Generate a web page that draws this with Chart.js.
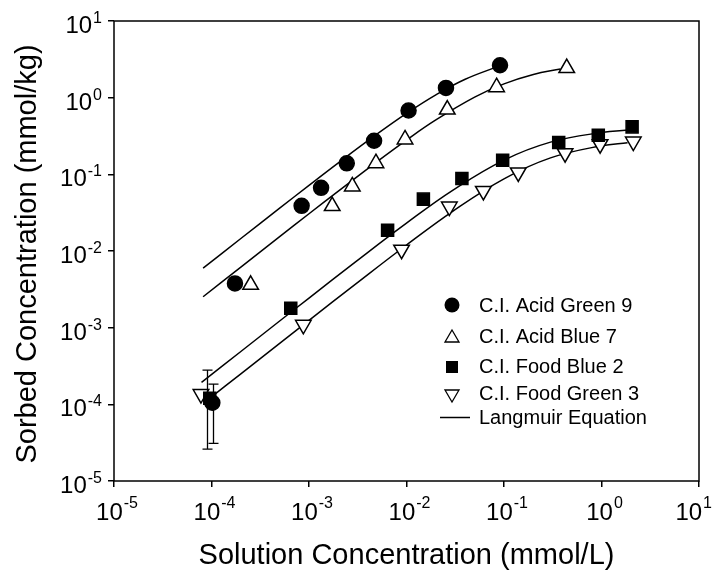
<!DOCTYPE html>
<html>
<head>
<meta charset="utf-8">
<script src="https://cdn.jsdelivr.net/npm/chart.js@4/dist/chart.umd.min.js"></script>
<style>
  html, body { margin: 0; padding: 0; background: #fff; }
  canvas { display: block; }
</style>
</head>
<body>
<canvas id="chart" width="721" height="573"></canvas>
<script>
// decade exponents used for the axis ticks
const xExp = [-5, -4, -3, -2, -1, 0, 1];
const yExp = [-5, -4, -3, -2, -1, 0, 1];

const xTitle = "Solution Concentration (mmol/L)";
const yTitle = "Sorbed Concentration (mmol/kg)";
const legendLabels = ["C.I. Acid Green 9", "C.I. Acid Blue 7", "C.I. Food Blue 2", "C.I. Food Green 3", "Langmuir Equation"];

// measured points
const ag9X = [1.02e-4, 1.74e-4, 8.4e-4, 1.33e-3, 2.44e-3, 4.65e-3, 0.0105, 0.0254, 0.091];
const ag9Y = [1.05e-4, 3.78e-3, 0.0388, 0.0667, 0.139, 0.274, 0.68, 1.34, 2.65];
const ab7X = [2.52e-4, 1.73e-3, 2.78e-3, 4.86e-3, 9.66e-3, 0.0262, 0.084, 0.44];
const ab7Y = [3.62e-3, 0.0385, 0.0696, 0.140, 0.285, 0.70, 1.37, 2.43];
const fb2X = [9.6e-5, 6.5e-4, 6.4e-3, 0.0149, 0.037, 0.0969, 0.364, 0.927, 2.06];
const fb2Y = [1.2e-4, 1.79e-3, 0.0187, 0.0475, 0.0883, 0.153, 0.261, 0.324, 0.416];
const fg3X = [7.8e-5, 8.75e-4, 8.9e-3, 0.0275, 0.0614, 0.140, 0.423, 0.967, 2.12];
const fg3Y = [1.36e-4, 1.09e-3, 0.0104, 0.038, 0.0608, 0.106, 0.189, 0.247, 0.268];

// error bars (first point only)
const ag9ErrLo = [3.1e-5];
const ag9ErrHi = [1.84e-4];
const fb2ErrLo = [2.6e-5];
const fb2ErrHi = [2.8e-4];

// Langmuir fit curves
const ag9FitX = [8.2e-5, 2e-4, 5e-4, 1e-3, 2e-3, 5e-3, 0.01, 0.02, 0.04, 0.09];
const ag9FitY = [5.98e-3, 0.01455, 0.0362, 0.0718, 0.1412, 0.336, 0.624, 1.09, 1.74, 2.60];
const ab7FitX = [8.2e-5, 2e-4, 5e-4, 1e-3, 2e-3, 5e-3, 0.01, 0.02, 0.05, 0.1, 0.2, 0.38];
const ab7FitY = [2.53e-3, 6.17e-3, 0.01537, 0.0306, 0.0605, 0.1469, 0.280, 0.512, 1.016, 1.515, 2.006, 2.37];
const fb2FitX = [7.9e-5, 2e-4, 5e-4, 1e-3, 3e-3, 0.01, 0.03, 0.1, 0.3, 1, 1.96];
const fb2FitY = [1.936e-4, 4.89e-4, 1.221e-3, 2.435e-3, 7.22e-3, 0.0231, 0.0623, 0.1533, 0.263, 0.351, 0.378];
const fg3FitX = [9.5e-5, 2e-4, 5e-4, 1e-3, 3e-3, 0.01, 0.03, 0.1, 0.3, 1, 1.85];
const fg3FitY = [1.19e-4, 2.50e-4, 6.24e-4, 1.245e-3, 3.70e-3, 0.01198, 0.0332, 0.0874, 0.1638, 0.236, 0.258];

const FONT = "'Liberation Sans', Arial, sans-serif";

function pts(xs, ys) {
  return xs.map((x, i) => ({ x: x, y: ys[i] }));
}

function markerSet(label, xs, ys, style, fill, radius, rotation) {
  return {
    type: "scatter",
    label: label,
    data: pts(xs, ys),
    pointStyle: style,
    pointRadius: radius,
    pointRotation: rotation || 0,
    backgroundColor: fill,
    borderColor: "#000",
    pointBorderWidth: 1.5,
    showLine: false
  };
}

function fitSet(xs, ys) {
  return {
    type: "line",
    data: pts(xs, ys),
    borderColor: "#000",
    borderWidth: 1.5,
    pointRadius: 0,
    fill: false,
    tension: 0.4
  };
}

// frame, error bars, tick labels, titles and legend
const decorPlugin = {
  id: "decor",
  afterDatasetsDraw(chart) {
    const ctx = chart.ctx;
    const x = chart.scales.x;
    const y = chart.scales.y;
    const area = chart.chartArea;
    ctx.save();
    ctx.strokeStyle = "#000";
    ctx.fillStyle = "#000";

    // error bars
    ctx.lineWidth = 1.3;
    const bars = [
      [ag9X, ag9ErrLo, ag9ErrHi, 1],
      [fb2X, fb2ErrLo, fb2ErrHi, -3]
    ];
    bars.forEach(([xs, lo, hi, shift]) => {
      lo.forEach((v, i) => {
        const px = Math.round(x.getPixelForValue(xs[i])) + shift + 0.5;
        const p1 = y.getPixelForValue(lo[i]);
        const p2 = y.getPixelForValue(hi[i]);
        ctx.beginPath();
        ctx.moveTo(px, p1); ctx.lineTo(px, p2);
        ctx.moveTo(px - 5, p1); ctx.lineTo(px + 5, p1);
        ctx.moveTo(px - 5, p2); ctx.lineTo(px + 5, p2);
        ctx.stroke();
      });
    });

    // frame
    ctx.lineWidth = 1.5;
    ctx.strokeRect(area.left, area.top, area.right - area.left, area.bottom - area.top);

    // tick labels 10^n
    const base = "24px " + FONT;
    const sup = "16px " + FONT;
    ctx.textBaseline = "alphabetic";
    ctx.textAlign = "left";
    yExp.forEach(e => {
      const py = y.getPixelForValue(Math.pow(10, e));
      ctx.font = sup;
      const ew = ctx.measureText(String(e)).width;
      ctx.font = base;
      const bw = ctx.measureText("10").width;
      const right = area.left - 12;
      ctx.fillText("10", right - ew - bw - 1, py + 12);
      ctx.font = sup;
      ctx.fillText(String(e), right - ew, py + 2);
    });
    xExp.forEach(e => {
      const px = x.getPixelForValue(Math.pow(10, e));
      ctx.font = sup;
      const ew = ctx.measureText(String(e)).width;
      ctx.font = base;
      const bw = ctx.measureText("10").width;
      let left = px + 3 - (bw + ew + 1) / 2;
      // keep the last label inside the canvas
      left = Math.min(left, chart.width - 9 - (bw + ew + 1));
      ctx.fillText("10", left, area.bottom + 39);
      ctx.font = sup;
      ctx.fillText(String(e), left + bw + 1, area.bottom + 27);
    });

    // axis titles
    ctx.font = "29px " + FONT;
    ctx.textAlign = "center";
    ctx.fillText(xTitle, (area.left + area.right) / 2, 564);
    ctx.save();
    ctx.translate(36, (area.top + area.bottom) / 2 + 3);
    ctx.rotate(-Math.PI / 2);
    ctx.fillText(yTitle, 0, 0);
    ctx.restore();

    // legend
    const lx = 452;
    const rowsY = [305, 336, 366.5, 393.5, 417];
    ctx.lineWidth = 1.3;
    ctx.beginPath();
    ctx.arc(lx, 305, 7.5, 0, Math.PI * 2);
    ctx.fill();
    ctx.beginPath();
    ctx.moveTo(lx, 330); ctx.lineTo(lx + 7, 342); ctx.lineTo(lx - 7, 342); ctx.closePath();
    ctx.stroke();
    ctx.fillRect(lx - 6, 361, 12, 12);
    ctx.beginPath();
    ctx.moveTo(lx - 7, 390); ctx.lineTo(lx + 7, 390); ctx.lineTo(lx, 402); ctx.closePath();
    ctx.stroke();
    ctx.lineWidth = 1.5;
    ctx.beginPath();
    ctx.moveTo(440, 417.5); ctx.lineTo(470, 417.5);
    ctx.stroke();

    ctx.font = "20px " + FONT;
    ctx.textAlign = "left";
    ctx.textBaseline = "middle";
    legendLabels.forEach((t, i) => ctx.fillText(t, 479, rowsY[i] + 1));
    ctx.restore();
  }
};

new Chart(document.getElementById("chart"), {
  data: {
    datasets: [
      markerSet("C.I. Acid Green 9", ag9X, ag9Y, "circle", "#000", 7.5),
      markerSet("C.I. Acid Blue 7", ab7X, ab7Y, "triangle", "#fff", 9),
      markerSet("C.I. Food Blue 2", fb2X, fb2Y, "rect", "#000", 8.5),
      markerSet("C.I. Food Green 3", fg3X, fg3Y, "triangle", "#fff", 9, 180),
      fitSet(ag9FitX, ag9FitY),
      fitSet(ab7FitX, ab7FitY),
      fitSet(fb2FitX, fb2FitY),
      fitSet(fg3FitX, fg3FitY)
    ]
  },
  options: {
    responsive: false,
    devicePixelRatio: 1,
    animation: false,
    layout: { padding: { left: 0, top: 21, right: 22, bottom: 0 } },
    plugins: {
      legend: { display: false },
      tooltip: { enabled: false }
    },
    scales: {
      x: {
        type: "logarithmic",
        position: "bottom",
        min: 1e-5,
        max: 10,
        afterBuildTicks: s => { s.ticks = xExp.map(e => ({ value: Math.pow(10, e) })); },
        afterFit: s => { s.height = 92; },
        ticks: { display: false },
        border: { display: false },
        grid: { drawOnChartArea: false, drawTicks: true, tickLength: 6, color: "#000", lineWidth: 1.5 }
      },
      y: {
        type: "logarithmic",
        position: "left",
        min: 1e-5,
        max: 10,
        afterBuildTicks: s => { s.ticks = yExp.map(e => ({ value: Math.pow(10, e) })); },
        afterFit: s => { s.width = 114; },
        ticks: { display: false },
        border: { display: false },
        grid: { drawOnChartArea: false, drawTicks: true, tickLength: 6, color: "#000", lineWidth: 1.5 }
      }
    }
  },
  plugins: [decorPlugin]
});
</script>
</body>
</html>
